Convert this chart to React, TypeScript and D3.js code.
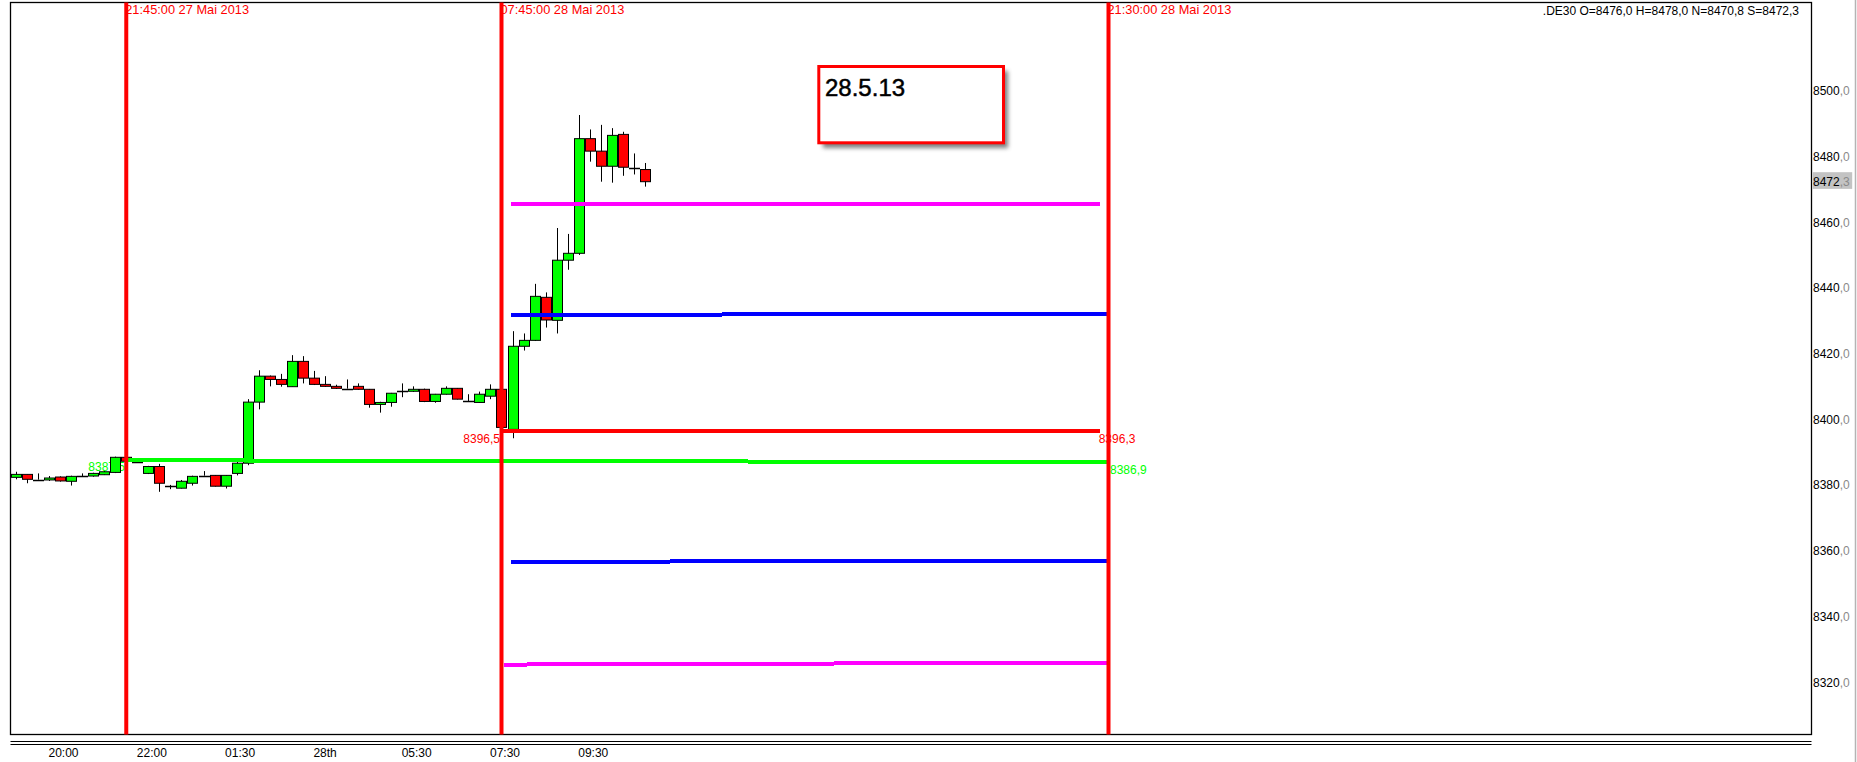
import React from 'react';
import { scaleLinear } from 'd3';

/* 15 min candles of .DE30, bar index 0 = first visible bar */
const opens = [8382.3, 8383.2, 8381.6, 8381.5, 8382.4, 8381.1, 8382.7, 8382.7, 8383.1, 8383.8, 8388.4, 8386.9, 8383.5, 8385.6, 8379.8, 8379.0, 8380.5, 8382.8, 8382.9, 8379.6, 8383.5, 8386.6, 8405.2, 8413.1, 8412.1, 8409.9, 8417.6, 8412.5, 8410.6, 8410.0, 8409.3, 8410.0, 8409.1, 8404.5, 8405.1, 8408.5, 8408.5, 8409.1, 8405.4, 8407.6, 8409.4, 8405.4, 8405.1, 8407.0, 8409.1, 8396.9, 8422.2, 8424.0, 8437.1, 8430.1, 8448.4, 8450.5, 8485.4, 8481.6, 8477.0, 8486.7, 8476.5, 8476.0];
const highs = [8384.0, 8383.2, 8383.5, 8382.7, 8382.6, 8382.8, 8383.5, 8383.7, 8384.2, 8388.6, 8388.6, 8387.0, 8385.8, 8386.4, 8380.0, 8381.5, 8382.8, 8384.2, 8383.0, 8383.0, 8387.0, 8406.1, 8414.9, 8413.3, 8413.8, 8419.5, 8419.2, 8414.7, 8413.1, 8410.5, 8412.1, 8410.9, 8409.2, 8405.3, 8408.0, 8410.9, 8410.0, 8409.3, 8407.7, 8410.0, 8409.5, 8407.6, 8408.4, 8410.6, 8409.3, 8426.8, 8426.1, 8441.2, 8438.6, 8458.2, 8456.4, 8492.6, 8488.2, 8489.6, 8488.6, 8487.5, 8480.9, 8478.0];
const lows = [8381.7, 8380.5, 8381.6, 8381.2, 8381.0, 8379.8, 8382.7, 8382.5, 8383.0, 8383.6, 8386.8, 8386.9, 8383.3, 8377.9, 8378.7, 8378.9, 8379.8, 8382.8, 8379.5, 8378.9, 8382.9, 8386.0, 8403.0, 8410.0, 8409.9, 8409.9, 8410.9, 8410.4, 8409.8, 8409.2, 8409.3, 8409.0, 8403.5, 8402.0, 8403.8, 8406.7, 8408.3, 8405.2, 8405.0, 8407.5, 8406.0, 8405.4, 8405.0, 8406.1, 8397.3, 8394.2, 8420.9, 8423.8, 8427.9, 8426.1, 8445.5, 8450.0, 8478.4, 8472.3, 8472.0, 8474.1, 8474.5, 8470.8];
const closes = [8383.2, 8381.7, 8381.6, 8382.1, 8381.2, 8382.6, 8382.7, 8383.5, 8384.0, 8388.4, 8387.2, 8386.9, 8385.6, 8380.5, 8379.8, 8381.1, 8382.6, 8382.8, 8379.6, 8382.9, 8386.6, 8405.2, 8413.1, 8412.1, 8410.6, 8417.6, 8412.5, 8410.6, 8410.0, 8409.4, 8409.3, 8409.1, 8404.5, 8405.1, 8407.9, 8408.5, 8409.1, 8405.4, 8407.6, 8409.4, 8406.1, 8405.4, 8407.6, 8409.1, 8397.5, 8422.2, 8424.0, 8437.4, 8430.2, 8448.4, 8450.5, 8485.4, 8481.6, 8477.0, 8486.4, 8476.7, 8476.5, 8472.3];

/* time axis labels and the bar they belong to */
const timeLabels = ['20:00', '22:00', '01:30', '28th', '05:30', '07:30', '09:30'];
const timeLabelBars = [3, 11, 19, 27, 35, 43, 51];

/* price axis */
const priceTicks = [8320, 8340, 8360, 8380, 8400, 8420, 8440, 8460, 8480, 8500];
const lastPrice = 8472.3;

/* vertical time markers */
const markerBars = [10, 44, 99];
const markerLabels = ['21:45:00 27 Mai 2013', '07:45:00 28 Mai 2013', '21:30:00 28 Mai 2013'];

/* level lines: bar from/to, price from/to */
const levelFromBar = [44.86, 44.86, 44.05, 10.16, 44.86, 44.2];
const levelToBar = [98.2, 98.9, 98.2, 98.9, 98.9, 98.9];
const levelFromPrice = [8465.5, 8431.8, 8396.5, 8387.5, 8356.6, 8325.3];
const levelToPrice = [8465.5, 8432.0, 8396.3, 8386.9, 8356.9, 8325.9];
const levelColors = ['#ff00ff', '#0000ff', '#ff0000', '#00ff00', '#0000ff', '#ff00ff'];

const header = '.DE30 O=8476,0 H=8478,0 N=8470,8 S=8472,3';
const noteText = '28.5.13';

const W = 1857;
const H = 762;
const left = 10.5;
const right = 1811.5;
const top = 2.5;
const bottom = 734.5;
const font = 'Arial, "Liberation Sans", sans-serif';

const fmt = (v: number) => v.toFixed(1).replace('.', ',');

const App = () => {
    const x = scaleLinear().domain([0, 99]).range([15.9, 1108.5]);
    const y = scaleLinear().domain([8320, 8500]).range([682.0, 90.7]);

    const priceLabel = (v: number) => {
        const [a, b] = fmt(v).split(',');
        return (
            <>
                <tspan fill="#000">{a}</tspan>
                <tspan fill="#8a8a8a">,{b}</tspan>
            </>
        );
    };

    return (
        <svg width={W} height={H} style={{ position: 'absolute', left: 0, top: 0, display: 'block' }}
            fontFamily={font} fontSize={12}>
            <defs>
                <filter id="shadow" x="-20%" y="-20%" width="140%" height="150%">
                    <feGaussianBlur stdDeviation="2.2" />
                </filter>
            </defs>
            <rect width={W} height={H} fill="#fff" />

            {/* frame */}
            <rect x={left} y={top} width={right - left} height={bottom - top} fill="none" stroke="#000" strokeWidth={1.3} />
            <line x1={left} x2={right} y1={741.5} y2={741.5} stroke="#000" />
            <line x1={left} x2={right} y1={744.5} y2={744.5} stroke="#000" />
            <line x1={1855.5} x2={1855.5} y1={0} y2={H} stroke="#b4b4b4" strokeWidth={1.5} />

            {/* price axis */}
            {priceTicks.map(v => (
                <text key={v} x={1813} y={y(v) + 4.5}>{priceLabel(v)}</text>
            ))}
            <rect x={1812.7} y={y(lastPrice) - 9.5} width={39.5} height={16.7} fill="#c3c3c3" />
            <text x={1813} y={y(lastPrice) + 4.5}>{priceLabel(lastPrice)}</text>

            {/* time axis */}
            {timeLabels.map((t, i) => (
                <text key={t} x={x(timeLabelBars[i]) - 0.5} y={756.5}>{t}</text>
            ))}

            <text x={1799} y={14.5} textAnchor="end">{header}</text>

            {/* level labels */}
            <text x={125} y={471} textAnchor="end" fill="#00ff00">{fmt(levelFromPrice[3])}</text>
            <text x={500} y={442.6} textAnchor="end" fill="#ff0000">{fmt(levelFromPrice[2])}</text>
            <text x={1098.7} y={442.6} fill="#ff0000">{fmt(levelToPrice[2])}</text>
            <text x={1110} y={473.6} fill="#00ff00">{fmt(levelToPrice[3])}</text>

            {/* candles */}
            {opens.map((o, i) => {
                const c = closes[i];
                const cx = Math.round(x(i));
                const yo = y(o);
                const yc = y(c);
                const doji = Math.abs(o - c) < 0.15;
                return (
                    <g key={i}>
                        <line x1={cx + 0.5} x2={cx + 0.5} y1={y(highs[i])} y2={y(lows[i])} stroke="#000" />
                        {doji
                            ? <line x1={cx - 5} x2={cx + 6} y1={Math.round(yo) + 0.5} y2={Math.round(yo) + 0.5} stroke="#000" strokeWidth={1.5} />
                            : <rect x={cx - 4.5} width={10} y={Math.min(yo, yc)} height={Math.abs(yo - yc)}
                                fill={c > o ? '#00ff00' : '#ff0000'} stroke="#000" strokeWidth={1} />}
                    </g>
                );
            })}

            {/* level lines */}
            {levelFromBar.map((b, i) => (
                <line key={i} x1={x(b)} x2={x(levelToBar[i])} y1={y(levelFromPrice[i])} y2={y(levelToPrice[i])}
                    stroke={levelColors[i]} strokeWidth={4} shapeRendering="crispEdges" />
            ))}

            {/* vertical markers */}
            {markerBars.map((b, i) => (
                <text key={'t' + b} x={x(b) - 1} y={14} fontSize={12.8} fill="#ff0000">{markerLabels[i]}</text>
            ))}
            {markerBars.map(b => (
                <line key={b} x1={x(b)} x2={x(b)} y1={top} y2={bottom} stroke="#ff0000" strokeWidth={4} />
            ))}

            {/* note box */}
            <rect x={823} y={71} width={185} height={77} fill="#555" opacity={0.75} filter="url(#shadow)" />
            <rect x={818.8} y={66.5} width={184.7} height={76.3} fill="#fff" stroke="#ff0000" strokeWidth={3} />
            <text x={825} y={95.7} fontSize={24} fill="#000" stroke="#000" strokeWidth={0.5}>{noteText}</text>
        </svg>
    );
};

export default App;
